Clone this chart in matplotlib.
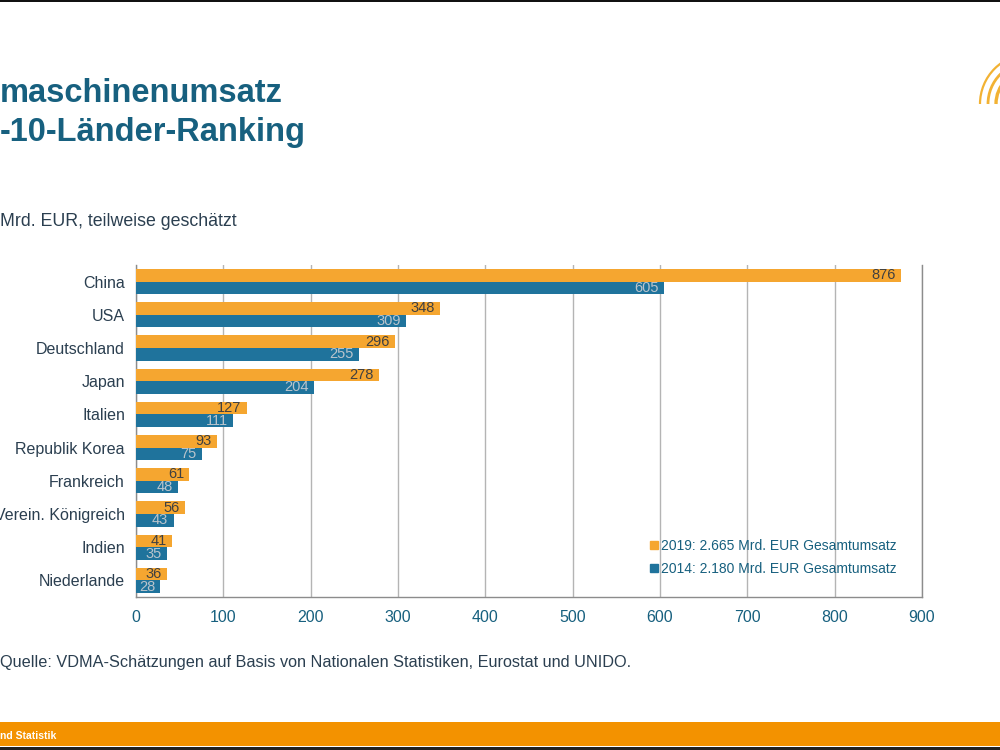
import matplotlib

matplotlib.use("Agg")
import matplotlib.pyplot as plt
from matplotlib.lines import Line2D
from matplotlib.patches import Arc, Rectangle
import numpy as np

plt.rcParams["font.family"] = ["Liberation Sans", "DejaVu Sans"]

# data (Mrd. EUR)
countries = ["China", "USA", "Deutschland", "Japan", "Italien", "Republik Korea",
             "Frankreich", "Verein. Königreich", "Indien", "Niederlande"]
sales_2019 = [876, 348, 296, 278, 127, 93, 61, 56, 41, 36]
sales_2014 = [605, 309, 255, 204, 111, 75, 48, 43, 35, 28]
legend_labels = ["2019: 2.665 Mrd. EUR Gesamtumsatz", "2014: 2.180 Mrd. EUR Gesamtumsatz"]
x_ticks = [0, 100, 200, 300, 400, 500, 600, 700, 800, 900]

ORANGE = "#f5a630"
BLUE = "#1f739c"
TEAL = "#17607f"
TEXT = "#2b3f50"

fig = plt.figure(figsize=(10, 7.5), dpi=100)
ax = fig.add_axes([0.136, 0.204, 0.786, 0.4427])

y = np.arange(len(countries))
h = 0.38
ax.barh(y - h / 2, sales_2019, height=h, color=ORANGE, zorder=3)
ax.barh(y + h / 2, sales_2014, height=h, color=BLUE, zorder=3)

for yi, v in zip(y, sales_2019):
    ax.text(v - 6, yi - h / 2, str(v), ha="right", va="center", fontsize=10.5,
            color="#404040", zorder=4)
for yi, v in zip(y, sales_2014):
    ax.text(v - 6, yi + h / 2, str(v), ha="right", va="center", fontsize=10.5,
            color="#b9c4cc", zorder=4)

ax.set_xlim(0, 900)
ax.set_ylim(len(countries) - 0.5, -0.5)
ax.set_xticks(x_ticks)
ax.set_yticks(y)
ax.set_yticklabels(countries)
ax.tick_params(axis="y", length=0, pad=8, labelsize=11.5, labelcolor=TEXT)
ax.tick_params(axis="x", length=0, pad=9, labelsize=11.5, labelcolor=TEAL)
ax.grid(axis="x", color="#b4b4b4", linewidth=1, zorder=0)
ax.spines["top"].set_visible(False)
for s in ["left", "bottom", "right"]:
    ax.spines[s].set_color("#8c8c8c")
    ax.spines[s].set_linewidth(1)

handles = [Line2D([], [], marker="s", linestyle="", markersize=6, color=ORANGE),
           Line2D([], [], marker="s", linestyle="", markersize=6, color=BLUE)]
leg = ax.legend(handles, legend_labels, loc="lower right", bbox_to_anchor=(0.984, 0.027),
                frameon=False, fontsize=10, handletextpad=0.1, handlelength=0.8,
                labelspacing=0.6)
for t in leg.get_texts():
    t.set_color(TEAL)

# slide texts
fig.text(0.0, 1 - 93 / 750, "maschinenumsatz", fontsize=23.5, fontweight="bold",
         color=TEAL, ha="left", va="center")
fig.text(0.0, 1 - 133 / 750, "-10-Länder-Ranking", fontsize=23.5, fontweight="bold",
         color=TEAL, ha="left", va="center")
fig.text(0.0, 1 - 222 / 750, "Mrd. EUR, teilweise geschätzt", fontsize=12.8,
         color=TEXT, ha="left", va="center")
fig.text(0.0, 1 - 662 / 750, "Quelle: VDMA-Schätzungen auf Basis von Nationalen Statistiken, Eurostat und UNIDO.",
         fontsize=11.7, color=TEXT, ha="left", va="center")

# footer bar and frame lines
fig.patches.append(Rectangle((0, 4 / 750), 1, 24 / 750, transform=fig.transFigure,
                             facecolor="#f39200", edgecolor="none"))
fig.patches.append(Rectangle((0, 0), 1, 3 / 750, transform=fig.transFigure,
                             facecolor="#222222", edgecolor="none"))
fig.patches.append(Rectangle((0, 1 - 2 / 750), 1, 2 / 750, transform=fig.transFigure,
                             facecolor="#111111", edgecolor="none"))
fig.text(0.0, 1 - 736 / 750, "nd Statistik", fontsize=7.5, fontweight="bold",
         color="white", ha="left", va="center")

# logo arcs at the top right
for r, lw in [(0.034, 2.4), (0.042, 2.0), (0.050, 1.6)]:
    fig.patches.append(Arc((1.03, 1 - 104 / 750), 2 * r, 2 * r * 1000 / 750,
                           theta1=90, theta2=180, transform=fig.transFigure,
                           color="#f2b233", linewidth=lw))

fig.savefig("out.png", dpi=100)
